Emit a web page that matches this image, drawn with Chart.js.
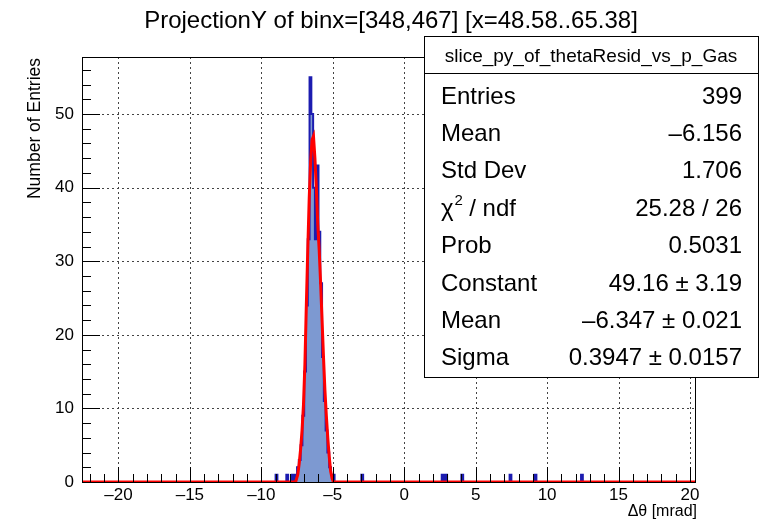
<!DOCTYPE html>
<html>
<head>
<meta charset="utf-8">
<script src="https://cdn.jsdelivr.net/npm/chart.js@4.4.0/dist/chart.umd.min.js"></script>
<style>
  html, body { margin: 0; padding: 0; background: #fff; }
  #wrap { width: 781px; height: 526px; }
</style>
</head>
<body>
<div id="wrap"><canvas id="myChart" width="781" height="526"></canvas></div>
<script>
  // histogram: non-empty bins (left edge, entries), bin width 0.125 mrad
  var binWidth = 0.125;
  var histLow = -22.5;
  var histHigh = 20.5;
  var binLeft = [-8.875, -8.125, -7.75, -7.5, -7.375, -7.25, -7.125, -7.0, -6.875, -6.75,
                 -6.625, -6.5, -6.375, -6.25, -6.125, -6.0, -5.875, -5.75, -5.625, -5.5,
                 -5.375, -5.25, -5.125, -5.0, -4.875, -2.875, 2.75, 3.0, 4.125, 7.5, 9.25, 12.5];
  var binCounts = [1, 1, 1, 1, 2, 3, 5, 9, 15, 24,
                   33, 55, 50, 40, 33, 43, 34, 27, 17, 11,
                   7, 4, 2, 1, 1, 1, 1, 1, 1, 1, 1, 1];

  // gaus fit curve
  var fitX = [-22.6, -7.6, -7.45, -7.35, -7.25, -7.15, -7.05, -6.95, -6.85, -6.75, -6.65, -6.55,
              -6.45, -6.35, -6.25, -6.15, -6.05, -5.95, -5.85, -5.75, -5.65, -5.55, -5.45,
              -5.35, -5.25, -5.15, -5.05, -4.95, 20.5];
  var fitY = [0, 0, 1, 2.5, 4.5, 7, 10.5, 16, 24, 31.5, 38.5, 43.5,
              46.5, 47, 44, 40, 35, 31.5, 27, 22, 17, 12.5, 9,
              6, 3.5, 1.5, 0.5, 0, 0];

  var xTicks = [-20, -15, -10, -5, 0, 5, 10, 15, 20];
  var yTicks = [0, 10, 20, 30, 40, 50];

  var titleText = "ProjectionY of binx=[348,467] [x=48.58..65.38]";
  var statsName = "slice_py_of_thetaResid_vs_p_Gas";
  var statsLabels = ["Entries", "Mean", "Std Dev", "CHI2", "Prob", "Constant", "Mean", "Sigma"];
  var statsValues = ["399", "\u20136.156", "1.706", "25.28 / 26", "0.5031",
                     "49.16 \u00b1 3.19", "\u20136.347 \u00b1 0.021", "0.3947 \u00b1 0.0157"];

  var FONT = "'Liberation Sans', Arial, Helvetica, sans-serif";

  var histPoints = [];
  var nBins = Math.round((histHigh - histLow) / binWidth);
  for (var i = 0; i < nBins; i++) {
    var left = histLow + i * binWidth;
    var c = 0;
    for (var k = 0; k < binLeft.length; k++) {
      if (Math.abs(binLeft[k] - left) < 1e-6) c = binCounts[k];
    }
    histPoints.push({x: left, y: c});
  }
  histPoints.push({x: histHigh, y: 0});

  var fitPoints = [];
  for (var j = 0; j < fitX.length; j++) fitPoints.push({x: fitX[j], y: fitY[j]});

  var fmt = function(v) { return v < 0 ? "\u2013" + Math.abs(v) : String(v); };

  var rootAxes = {
    id: 'rootAxes',
    beforeDatasetsDraw: function(chart) {
      var ctx = chart.ctx, a = chart.chartArea;
      var xs = chart.scales.x, ys = chart.scales.y;
      ctx.save();
      ctx.strokeStyle = '#444';
      ctx.lineWidth = 1;
      ctx.setLineDash([2, 3]);
      xTicks.forEach(function(v) {
        var px = Math.round(xs.getPixelForValue(v)) + 0.5;
        ctx.beginPath(); ctx.moveTo(px, a.top); ctx.lineTo(px, a.bottom); ctx.stroke();
      });
      yTicks.forEach(function(v) {
        if (v === 0) return;
        var py = Math.round(ys.getPixelForValue(v)) + 0.5;
        ctx.beginPath(); ctx.moveTo(a.left, py); ctx.lineTo(a.right, py); ctx.stroke();
      });
      ctx.restore();
    },
    afterDatasetsDraw: function(chart) {
      var ctx = chart.ctx, a = chart.chartArea;
      var xs = chart.scales.x, ys = chart.scales.y;
      ctx.save();
      ctx.strokeStyle = '#000';
      ctx.lineWidth = 1;
      ctx.strokeRect(Math.round(a.left) + 0.5, Math.round(a.top) + 0.5,
                     Math.round(a.right - a.left), Math.round(a.bottom - a.top));
      // x ticks
      ctx.beginPath();
      for (var v = -22; v <= 20; v++) {
        var px = Math.round(xs.getPixelForValue(v)) + 0.5;
        var len = (v % 5 === 0) ? 15 : 8;
        ctx.moveTo(px, a.bottom); ctx.lineTo(px, a.bottom - len);
      }
      // y ticks
      for (var w = 0; w <= 56; w += 2) {
        var py = Math.round(ys.getPixelForValue(w)) + 0.5;
        var ln = (w % 10 === 0) ? 18 : 9;
        ctx.moveTo(a.left, py); ctx.lineTo(a.left + ln, py);
      }
      ctx.stroke();

      ctx.fillStyle = '#000';
      ctx.font = '17px ' + FONT;
      ctx.textAlign = 'center';
      ctx.textBaseline = 'middle';
      xTicks.forEach(function(v) {
        ctx.fillText(fmt(v), xs.getPixelForValue(v), a.bottom + 13);
      });
      ctx.textAlign = 'right';
      yTicks.forEach(function(v) {
        ctx.fillText(String(v), a.left - 8, ys.getPixelForValue(v));
      });

      ctx.font = '16px ' + FONT;
      ctx.textAlign = 'right';
      ctx.fillText("\u0394\u03b8 [mrad]", 697, 512);
      ctx.save();
      ctx.font = '17.5px ' + FONT;
      ctx.translate(35, 58);
      ctx.rotate(-Math.PI / 2);
      ctx.textAlign = 'right';
      ctx.fillText("Number of Entries", 0, 0);
      ctx.restore();

      ctx.font = '24px ' + FONT;
      ctx.textAlign = 'center';
      ctx.fillText(titleText, 391, 21);
      ctx.restore();
    },
    afterDraw: function(chart) {
      var ctx = chart.ctx;
      var bx = 424, by = 36, bw = 334, bh = 341, head = 37;
      ctx.save();
      ctx.fillStyle = '#fff';
      ctx.fillRect(bx, by, bw, bh);
      ctx.strokeStyle = '#000';
      ctx.lineWidth = 1;
      ctx.strokeRect(bx + 0.5, by + 0.5, bw, bh);
      ctx.beginPath();
      ctx.moveTo(bx, by + head + 0.5); ctx.lineTo(bx + bw, by + head + 0.5);
      ctx.stroke();
      ctx.fillStyle = '#000';
      ctx.textBaseline = 'middle';
      ctx.font = '19px ' + FONT;
      ctx.textAlign = 'center';
      ctx.fillText(statsName, bx + bw / 2, by + head / 2 + 2);
      var rowH = 37.4;
      ctx.font = '24px ' + FONT;
      for (var r = 0; r < statsLabels.length; r++) {
        var cy = 97 + rowH * r;
        ctx.textAlign = 'left';
        if (statsLabels[r] === "CHI2") {
          ctx.fillText("\u03c7", bx + 17, cy);
          var wChi = ctx.measureText("\u03c7").width;
          ctx.font = '15px ' + FONT;
          ctx.fillText("2", bx + 17 + wChi + 1, cy - 8);
          ctx.font = '24px ' + FONT;
          ctx.fillText(" / ndf", bx + 17 + wChi + 9, cy);
        } else {
          ctx.fillText(statsLabels[r], bx + 17, cy);
        }
        ctx.textAlign = 'right';
        ctx.fillText(statsValues[r], bx + bw - 16, cy);
      }
      ctx.restore();
    }
  };

  var context = document.getElementById("myChart").getContext('2d');
  var myChart = new Chart(context, {
    type: 'line',
    data: {
      datasets: [
        {
          label: 'gaus',
          data: fitPoints,
          borderColor: '#ff0000',
          borderWidth: 3,
          pointRadius: 0,
          fill: false,
          tension: 0,
          order: 0
        },
        {
          label: 'slice_py_of_thetaResid_vs_p_Gas',
          data: histPoints,
          stepped: 'after',
          borderColor: '#1c1cb0',
          borderWidth: 2,
          backgroundColor: '#7d99d1',
          fill: 'origin',
          pointRadius: 0,
          order: 1
        }
      ]
    },
    options: {
      responsive: false,
      animation: false,
      layout: { padding: { left: 82, top: 57, right: 86, bottom: 44 } },
      plugins: { legend: { display: false }, tooltip: { enabled: false }, title: { display: false } },
      scales: {
        x: { type: 'linear', min: -22.55, max: 20.35, display: false },
        y: { type: 'linear', min: 0, max: 57.75, display: false }
      }
    },
    plugins: [rootAxes]
  });
</script>
</body>
</html>
